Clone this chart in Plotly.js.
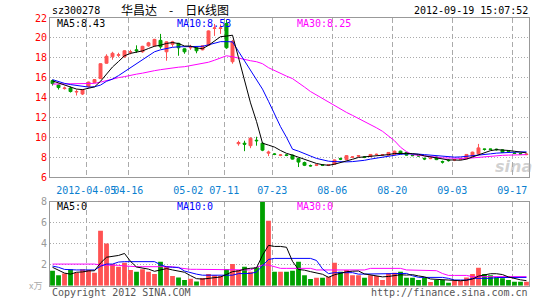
<!DOCTYPE html>
<html><head><meta charset="utf-8">
<script src="https://cdn.plot.ly/plotly-3.0.1.min.js"></script>
<style>html,body{margin:0;padding:0;background:#fff}#c{width:545px;height:300px}</style>
</head><body><div id="c"></div>
<script>
const dates = ['2012-03-23','2012-03-26','2012-03-27','2012-03-28','2012-03-29','2012-03-30','2012-04-05','2012-04-06','2012-04-09','2012-04-10',
'2012-04-11','2012-04-12','2012-04-13','2012-04-16','2012-04-17','2012-04-18','2012-04-19','2012-04-20','2012-04-23','2012-04-24',
'2012-04-25','2012-04-26','2012-04-27','2012-05-02','2012-05-03','2012-05-04','2012-05-07','2012-05-08','2012-05-09','2012-07-11',
'2012-07-12','2012-07-13','2012-07-16','2012-07-17','2012-07-18','2012-07-19','2012-07-20','2012-07-23','2012-07-24','2012-07-25',
'2012-07-26','2012-07-27','2012-07-30','2012-07-31','2012-08-01','2012-08-02','2012-08-03','2012-08-06','2012-08-07','2012-08-08',
'2012-08-09','2012-08-10','2012-08-13','2012-08-14','2012-08-15','2012-08-16','2012-08-17','2012-08-20','2012-08-21','2012-08-22',
'2012-08-23','2012-08-24','2012-08-27','2012-08-28','2012-08-29','2012-08-30','2012-08-31','2012-09-03','2012-09-04','2012-09-05',
'2012-09-06','2012-09-07','2012-09-10','2012-09-11','2012-09-12','2012-09-13','2012-09-14','2012-09-17','2012-09-18','2012-09-19'];

const open = [15.7,15.25,14.9,14.95,14.55,14.35,15.1,15.5,15.9,17.45,
18.1,18.25,18.1,18.55,18.8,18.6,19.2,19.2,19.75,18.6,
19.35,19.45,18.9,19.0,19.0,18.8,19.25,20.95,20.95,21.45,
17.6,9.35,9.4,9.15,9.7,9.4,8.4,8.32,8.18,8.22,
8.2,7.85,7.45,7.15,7.18,7.22,7.18,7.28,7.85,7.75,
7.98,8.1,8.02,8.07,8.25,8.2,8.2,8.27,8.6,8.47,
8.18,8.15,7.88,7.85,8.0,7.55,7.7,7.7,7.78,7.83,
8.07,8.33,8.82,8.82,8.8,8.73,8.62,8.42,8.35,8.25];
const high = [15.8,15.3,15.1,15.1,14.8,14.85,15.6,15.85,17.45,18.35,
18.6,18.5,18.75,18.8,19.25,19.2,19.6,19.9,20.4,19.65,
19.7,19.5,18.95,19.3,19.05,19.25,20.75,21.4,21.35,21.8,
19.8,9.65,9.65,10.0,10.05,9.45,8.65,8.4,8.3,8.3,
8.25,7.9,7.55,7.25,7.3,7.3,7.3,7.75,7.95,8.2,
8.1,8.2,8.1,8.3,8.35,8.3,8.5,8.65,8.65,8.5,
8.25,8.2,7.95,7.95,8.05,7.65,7.8,7.8,7.9,8.3,
8.55,9.33,8.85,8.85,8.85,8.78,8.68,8.5,8.42,8.35];
const low = [15.2,14.8,14.8,14.5,14.2,14.25,15.0,15.45,15.9,17.4,
17.8,18.05,18.0,18.35,18.5,18.5,19.1,19.1,18.9,17.7,
19.1,18.2,18.4,18.8,18.45,18.75,19.2,20.2,20.4,18.9,
17.4,9.15,8.6,8.9,9.15,8.6,8.1,8.2,8.1,8.1,
7.75,7.0,7.1,7.05,7.1,7.1,7.1,7.25,7.7,7.7,
7.9,8.0,7.9,8.0,8.2,8.15,8.15,8.25,8.3,8.15,
8.1,8.05,7.7,7.8,7.7,7.35,7.55,7.6,7.7,7.8,
8.05,8.3,8.65,8.7,8.65,8.45,8.5,8.35,8.25,8.2];
const close = [15.4,15.0,14.95,14.6,14.6,14.8,15.55,15.8,17.4,18.15,
18.45,18.3,18.7,18.6,18.7,19.15,19.5,19.85,19.1,19.6,
19.6,19.0,18.6,19.05,18.7,19.2,20.7,21.0,21.0,19.0,
19.65,9.47,9.3,9.9,9.65,8.7,8.5,8.28,8.22,8.18,
7.8,7.5,7.18,7.12,7.22,7.18,7.22,7.72,7.8,8.15,
8.02,8.15,7.98,8.27,8.28,8.25,8.47,8.6,8.33,8.2,
8.15,8.12,7.82,7.88,7.75,7.5,7.65,7.75,7.82,8.27,
8.5,8.93,8.78,8.78,8.75,8.47,8.58,8.38,8.32,8.3];

const ma5 = [15.67,15.45,15.25,15.05,14.85,14.79,14.9,15.07,15.63,16.34,
17.07,17.62,18.2,18.44,18.55,18.69,18.93,19.16,19.26,19.44,
19.53,19.43,19.18,19.17,18.99,18.91,19.25,19.73,20.12,20.18,
20.27,18.02,15.68,13.46,11.59,9.4,9.21,9.01,8.67,8.38,
8.2,8.0,7.78,7.56,7.36,7.24,7.18,7.29,7.43,7.61,
7.78,7.97,8.02,8.11,8.14,8.19,8.25,8.37,8.39,8.37,
8.35,8.28,8.12,8.03,7.94,7.81,7.72,7.71,7.69,7.8,
8.0,8.25,8.46,8.65,8.75,8.74,8.67,8.59,8.5,8.43];
const ma10 = [15.8,15.6,15.42,15.3,15.2,15.12,15.05,15.08,15.25,15.63,
15.85,16.2,16.6,16.95,17.35,17.8,18.2,18.6,18.8,18.95,
19.05,19.1,19.1,19.12,19.12,19.15,19.3,19.45,19.62,19.62,
19.6,18.64,17.71,16.79,15.89,14.84,13.62,12.35,11.07,9.99,
8.8,8.6,8.39,8.11,7.87,7.72,7.59,7.55,7.52,7.52,
7.55,7.6,7.68,7.8,7.9,8.0,8.12,8.22,8.28,8.33,
8.33,8.3,8.25,8.2,8.13,8.05,8.0,8.0,8.02,8.07,
8.12,8.2,8.27,8.33,8.4,8.45,8.48,8.5,8.52,8.53];
const ma30 = [15.35,15.36,15.37,15.38,15.38,15.39,15.4,15.42,15.55,15.7,
15.9,16.0,16.1,16.25,16.35,16.45,16.6,16.7,16.8,16.9,
16.97,17.05,17.1,17.2,17.3,17.4,17.55,17.75,17.95,18.2,
18.1,17.95,17.8,17.7,17.6,17.4,17.0,16.7,16.4,16.15,
15.9,15.5,15.05,14.6,14.25,13.9,13.5,13.15,12.85,12.5,
12.2,11.9,11.6,11.3,10.95,10.6,10.1,9.65,9.0,8.55,
8.25,8.2,8.15,8.1,8.0,7.92,7.9,7.88,7.87,7.87,
7.92,7.98,8.05,8.1,8.15,8.18,8.2,8.22,8.23,8.25];

const volume = [1.43,1.0,1.17,1.56,1.24,1.56,1.5,1.24,5.24,4.03,
2.06,1.81,2.19,1.5,1.33,1.56,1.33,1.11,2.29,1.87,
0.92,0.79,0.54,0.67,0.41,0.73,1.11,1.0,0.92,1.59,
2.06,1.5,1.81,1.33,1.75,8.1,6.19,1.33,1.33,1.33,
1.43,2.29,1.0,0.63,0.76,0.76,0.86,2.19,1.33,1.5,
1.0,1.0,0.76,1.0,0.92,0.54,1.17,1.24,1.33,0.76,
0.76,0.54,0.79,0.35,0.54,0.54,0.29,0.48,0.48,0.79,
1.11,1.71,1.11,1.0,0.79,0.7,0.54,0.38,0.38,0.38];
const volMa5 = [1.75,1.5,1.2,1.1,1.28,1.31,1.41,1.42,2.16,2.71,
2.81,2.88,3.07,2.32,1.78,1.68,1.58,1.37,1.52,1.63,
1.5,1.4,1.28,0.96,0.67,0.63,0.69,0.78,0.83,1.07,
1.34,1.41,1.58,1.66,1.69,2.9,3.84,3.74,3.74,3.66,
2.32,1.54,1.48,1.34,1.22,1.09,0.8,1.04,1.18,1.33,
1.38,1.4,1.12,1.05,0.94,0.84,0.88,0.97,1.04,1.01,
1.05,0.93,0.84,0.64,0.6,0.55,0.5,0.44,0.47,0.52,
0.63,0.91,1.04,1.14,1.14,1.06,0.83,0.68,0.56,0.48];
const volMa10 = [1.87,1.75,1.55,1.5,1.5,1.5,1.5,1.5,1.85,2.06,
2.06,2.25,2.29,2.29,2.29,2.29,2.29,2.29,2.0,1.8,
1.75,1.75,1.4,1.24,1.1,1.0,1.0,1.0,1.0,1.0,
1.0,1.15,1.17,1.17,1.3,1.9,2.5,2.6,2.6,2.6,
2.6,2.6,2.6,2.6,2.4,1.6,1.15,1.24,1.24,1.24,
1.24,1.1,1.1,1.1,1.1,1.12,1.17,1.17,1.17,1.17,
0.95,0.8,0.79,0.79,0.79,0.79,0.7,0.54,0.54,0.54,
0.7,0.7,0.7,0.7,0.78,0.79,0.79,0.79,0.79,0.79];
const volMa30 = [2.06,2.06,2.06,2.06,2.06,2.06,2.06,2.06,1.97,1.97,
1.95,1.94,1.88,1.81,1.81,1.81,1.81,1.81,1.81,1.81,
1.81,1.7,1.6,1.56,1.56,1.56,1.56,1.56,1.5,1.5,
1.5,1.5,1.5,1.5,1.75,1.97,1.97,1.8,1.65,1.65,
1.65,1.65,1.65,1.65,1.5,1.5,1.5,1.5,1.5,1.5,
1.5,1.5,1.5,1.65,1.65,1.65,1.65,1.65,1.65,1.5,
1.5,1.5,1.5,1.5,1.43,1.16,0.98,0.98,0.98,0.98,
0.86,0.86,0.86,0.86,0.86,0.86,0.86,0.86,0.86,0.86];

const tickDates = ['2012-04-05','2012-04-16','2012-05-02','2012-07-11','2012-07-23','2012-08-06','2012-08-20','2012-09-03','2012-09-17'];
const tickLabels = ['2012-04-05','04-16','05-02','07-11','07-23','08-06','08-20','09-03','09-17'];
const priceTicks = [6,8,10,12,14,16,18,20,22];
const volTicks = [2,4,6,8];
const stockCode = 'sz300278';
const chartTitle = '华昌达\u2003-\u2003日K线图';
const timestamp = '2012-09-19 15:07:52';
const maLabels = ['MA5:8.43','MA10:8.53','MA30:8.25'];
const volMaLabels = ['MA5:0','MA10:0','MA30:0'];

// ---- drawing ----
const W = 545, H = 300;
const RED = '#FF5252', GREEN = '#00A000';
const xs = dates.map((d, i) => i);
const tickPos = tickDates.map(d => dates.indexOf(d) - 0.38);
const volColors = close.map((c, i) => c >= open[i] ? RED : GREEN);
const MONO = 'DejaVu Sans Mono, monospace';
const gridC = '#aaaaaa', lineC = '#999999';

const xCommon = {
  range: [-0.42, 79.42], tickmode: 'array', tickvals: tickPos, ticktext: tickLabels,
  tickangle: 0, showgrid: true, gridcolor: gridC, griddash: '5px,3px', gridwidth: 1,
  showline: true, linecolor: lineC, linewidth: 1, mirror: true, ticks: '', zeroline: false,
  fixedrange: true, domain: [50 / W, 529 / W]
};

const traces = [
  {type: 'candlestick', x: xs, open: open, high: high, low: low, close: close,
   xaxis: 'x', yaxis: 'y', whiskerwidth: 0, hoverinfo: 'skip',
   increasing: {line: {color: RED, width: 1}, fillcolor: RED},
   decreasing: {line: {color: GREEN, width: 1}, fillcolor: GREEN}},
  {type: 'scatter', mode: 'lines', x: xs, y: ma30, xaxis: 'x', yaxis: 'y', line: {color: '#FF00FF', width: 1}, hoverinfo: 'skip'},
  {type: 'scatter', mode: 'lines', x: xs, y: ma10, xaxis: 'x', yaxis: 'y', line: {color: '#0000FF', width: 1}, hoverinfo: 'skip'},
  {type: 'scatter', mode: 'lines', x: xs, y: ma5, xaxis: 'x', yaxis: 'y', line: {color: '#000000', width: 1}, hoverinfo: 'skip'},
  {type: 'bar', x: xs, y: volume, xaxis: 'x2', yaxis: 'y2', width: 0.8, marker: {color: volColors, line: {width: 0}}, hoverinfo: 'skip'},
  {type: 'scatter', mode: 'lines', x: xs, y: volMa30, xaxis: 'x2', yaxis: 'y2', line: {color: '#FF00FF', width: 1}, hoverinfo: 'skip'},
  {type: 'scatter', mode: 'lines', x: xs, y: volMa10, xaxis: 'x2', yaxis: 'y2', line: {color: '#0000FF', width: 1}, hoverinfo: 'skip'},
  {type: 'scatter', mode: 'lines', x: xs, y: volMa5, xaxis: 'x2', yaxis: 'y2', line: {color: '#000000', width: 1}, hoverinfo: 'skip'}
];

function ann(text, px, py, xanchor, color, size, family, extra) {
  return Object.assign({text: text, xref: 'paper', yref: 'paper', x: px / W, y: 1 - py / H,
    xanchor: xanchor, yanchor: 'middle', showarrow: false,
    font: {family: family || MONO, size: size || 10, color: color}}, extra || {});
}

const annotations = [
  ann(stockCode, 50, 11, 'left', '#000'),
  ann(chartTitle, 119, 10, 'left', '#000', 12, 'Noto Sans CJK SC'),
  ann(timestamp, 530, 11, 'right', '#000'),
  ann(maLabels[0], 55, 24, 'left', '#000'),
  ann(maLabels[1], 175, 24, 'left', '#0000FF'),
  ann(maLabels[2], 295, 24, 'left', '#FF00FF'),
  ann(volMaLabels[0], 55, 206, 'left', '#000'),
  ann(volMaLabels[1], 175, 206, 'left', '#0000FF'),
  ann(volMaLabels[2], 295, 206, 'left', '#FF00FF'),
  ann('x万', 44, 285, 'right', '#aaaaaa', 9, 'Noto Sans CJK SC'),
  ann('Copyright 2012 SINA.COM', 50, 292, 'left', '#555'),
  ann('http://finance.sina.com.cn', 530, 292, 'right', '#555'),
  ann('<b><i>sina</i></b>', 513, 166, 'center', 'rgba(170,170,170,0.55)', 16, 'DejaVu Sans')
];

const layout = {
  width: W, height: H, margin: {l: 0, r: 0, t: 0, b: 0},
  paper_bgcolor: '#fff', plot_bgcolor: '#fff', showlegend: false,
  font: {family: MONO, size: 10, color: '#000'},
  boxgap: 0.3,
  xaxis: Object.assign({}, xCommon, {anchor: 'y', showticklabels: true, ticklabelstandoff: 4,
    tickfont: {family: MONO, size: 10, color: '#0A7FD0'}, rangeslider: {visible: false}}),
  xaxis2: Object.assign({}, xCommon, {anchor: 'y2', showticklabels: false}),
  yaxis: {domain: [1 - 177 / H, 1 - 18 / H], range: [6, 22], tickmode: 'array', tickvals: priceTicks,
    tickfont: {family: MONO, size: 10, color: '#FF0000'}, showgrid: true, gridcolor: gridC, griddash: '1px,2px',
    showline: true, linecolor: lineC, linewidth: 1, mirror: true, ticks: '', zeroline: false, fixedrange: true},
  yaxis2: {domain: [1 - 285.7 / H, 1 - 201.7 / H], range: [0, 8], tickmode: 'array', tickvals: volTicks,
    tickfont: {family: MONO, size: 10, color: '#999999'}, showgrid: true, gridcolor: gridC, griddash: '1px,2px',
    showline: true, linecolor: lineC, linewidth: 1, mirror: true, ticks: '', zeroline: false, fixedrange: true},
  annotations: annotations
};

Plotly.newPlot('c', traces, layout, {staticPlot: true, displayModeBar: false});
</script>
</body></html>
